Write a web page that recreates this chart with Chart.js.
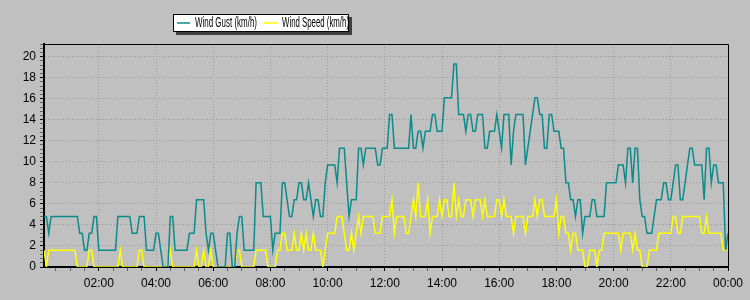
<!DOCTYPE html>
<html>
<head>
<meta charset="utf-8">
<script src="https://cdn.jsdelivr.net/npm/chart.js@4"></script>
<style>
    html, body { margin: 0; background: #c0c0c0; }
    canvas { display: block; }
</style>
</head>
<body>
<canvas id="chart-wind" width="750" height="300"></canvas>
<script>
// one sample every 5 minutes, 00:05 .. 24:00
const startMinute = 5;
const stepMinutes = 5;

const windGust = [
    4.8, 4.8, 3.2, 4.8, 4.8, 4.8, 4.8, 4.8, 4.8, 4.8,
    4.8, 4.8, 4.8, 4.8, 4.8, 3.2, 3.2, 1.6, 1.6, 3.2,
    3.2, 4.8, 4.8, 1.6, 1.6, 1.6, 1.6, 1.6, 1.6, 1.6,
    1.6, 4.8, 4.8, 4.8, 4.8, 4.8, 4.8, 3.2, 3.2, 3.2,
    4.8, 4.8, 4.8, 1.6, 1.6, 1.6, 1.6, 3.2, 3.2, 1.6,
    0, 0, 0, 4.8, 4.8, 1.6, 1.6, 1.6, 1.6, 1.6,
    1.6, 3.2, 3.2, 3.2, 6.4, 6.4, 6.4, 6.4, 3.2, 1.6,
    3.2, 3.2, 1.6, 0, 0, 0, 0, 3.2, 3.2, 0,
    0, 3.2, 4.8, 4.8, 1.6, 1.6, 1.6, 1.6, 1.6, 8.0, 8.0,
    8.0, 4.8, 4.8, 4.8, 4.8, 1.6, 3.2, 3.2, 3.2, 8.0,
    8.0, 6.4, 4.8, 4.8, 6.4, 6.4, 8.0, 8.0, 6.4, 6.4,
    8.0, 6.4, 4.8, 6.4, 6.4, 4.8, 4.8, 8.0, 9.7, 9.7,
    9.7, 9.7, 8.0, 11.3, 11.3, 11.3, 8.0, 4.8, 6.4, 6.4,
    6.4, 11.3, 11.3, 9.7, 11.3, 11.3, 11.3, 11.3, 11.3, 9.7,
    9.7, 11.3, 11.3, 11.3, 14.5, 14.5, 11.3, 11.3, 11.3, 11.3,
    11.3, 11.3, 11.3, 14.5, 11.3, 11.3, 12.9, 12.9, 11.3, 12.9,
    12.9, 12.9, 14.5, 14.5, 12.9, 12.9, 12.9, 16.1, 16.1, 16.1,
    16.1, 19.3, 19.3, 14.5, 14.5, 14.5, 12.9, 14.5, 14.5, 12.9,
    12.9, 14.5, 14.5, 14.5, 11.3, 11.3, 12.9, 12.9, 12.9, 14.5,
    12.9, 11.3, 14.5, 14.5, 14.5, 9.7, 12.9, 14.5, 14.5, 14.5, 14.5,
    9.7, 11.3, 12.9, 14.5, 16.1, 16.1, 14.5, 14.5, 11.3, 11.3,
    14.5, 14.5, 12.9, 12.9, 12.9, 11.3, 11.3, 8.0, 8.0, 6.4,
    6.4, 4.8, 6.4, 6.4, 3.2, 4.8, 4.8, 4.8, 6.4, 6.4,
    4.8, 4.8, 4.8, 4.8, 8.0, 8.0, 8.0, 8.0, 8.0, 9.7,
    9.7, 9.7, 8.0, 11.3, 11.3, 8.0, 11.3, 11.3, 6.4, 4.8,
    4.8, 3.2, 3.2, 3.2, 4.8, 6.4, 6.4, 6.4, 8.0, 8.0,
    6.4, 6.4, 8.0, 9.7, 9.7, 6.4, 6.4, 8.0, 9.7, 11.3,
    11.3, 9.7, 9.7, 9.7, 9.7, 6.4, 11.3, 11.3, 8.0, 9.7,
    9.7, 8.0, 8.0, 8.0, 1.6, 3.2
];

const windSpeed = [
    1.6, 0, 1.6, 1.6, 1.6, 1.6, 1.6, 1.6, 1.6, 1.6,
    1.6, 1.6, 1.6, 1.6, 0, 0, 0, 0, 0, 1.6,
    1.6, 0, 0, 0, 0, 0, 0, 0, 0, 0,
    0, 0, 1.6, 0, 0, 0, 0, 0, 0, 0,
    1.6, 1.6, 0, 0, 0, 0, 0, 0, 0, 0,
    0, 0, 0, 1.6, 0, 0, 0, 0, 0, 0,
    0, 0, 0, 0, 1.6, 0, 0, 1.6, 0, 0,
    1.6, 0, 0, 0, 0, 0, 0, 0, 0, 0,
    0, 1.6, 1.6, 0, 0, 0, 0, 0, 0, 1.6, 1.6,
    1.6, 1.6, 1.6, 0, 0, 0, 0, 1.6, 1.6, 3.2,
    3.2, 1.6, 1.6, 1.6, 3.2, 1.6, 1.6, 3.2, 1.6, 3.2,
    1.6, 1.6, 3.2, 1.6, 1.6, 1.6, 0, 1.6, 3.2, 3.2,
    3.2, 3.2, 4.8, 4.8, 4.8, 3.2, 1.6, 1.6, 3.2, 1.6,
    3.2, 4.8, 3.2, 4.8, 4.8, 4.8, 4.8, 4.8, 3.2, 3.2,
    3.2, 4.8, 4.8, 4.8, 4.8, 6.4, 3.2, 4.8, 4.8, 4.8,
    4.8, 3.2, 3.2, 4.8, 6.4, 4.8, 8.0, 4.8, 4.8, 4.8,
    6.4, 3.2, 4.8, 4.8, 4.8, 6.4, 4.8, 6.4, 6.4, 4.8,
    4.8, 8.0, 4.8, 6.4, 4.8, 4.8, 6.4, 6.4, 6.4, 4.8,
    6.4, 6.4, 6.4, 4.8, 6.4, 4.8, 4.8, 4.8, 4.8, 6.4,
    6.4, 4.8, 6.4, 4.8, 4.8, 4.8, 3.2, 4.8, 4.8, 4.8, 4.8,
    3.2, 4.8, 4.8, 4.8, 6.4, 4.8, 6.4, 6.4, 4.8, 4.8,
    4.8, 4.8, 4.8, 6.4, 3.2, 4.8, 4.8, 3.2, 3.2, 1.6,
    3.2, 3.2, 1.6, 1.6, 1.6, 0, 0, 1.6, 1.6, 1.6,
    0, 1.6, 1.6, 3.2, 3.2, 3.2, 3.2, 3.2, 3.2, 3.2,
    1.6, 3.2, 3.2, 3.2, 3.2, 1.6, 3.2, 1.6, 1.6, 0,
    0, 0, 1.6, 1.6, 1.6, 1.6, 3.2, 3.2, 3.2, 3.2,
    3.2, 3.2, 4.8, 4.8, 3.2, 3.2, 4.8, 4.8, 4.8, 4.8,
    4.8, 4.8, 4.8, 4.8, 3.2, 3.2, 4.8, 3.2, 3.2, 3.2,
    3.2, 3.2, 3.2, 1.6, 1.6, 1.6
];

const seriesNames = ['Wind Gust (km/h)', 'Wind Speed (km/h)'];
const seriesColors = ['#0b8b8b', '#ffff00'];

// y axis: labels every 2, small ticks every 0.4
const yMax = 21.2;
const yMinorStep = 0.4;

const FONT = '"Liberation Sans Narrow", "Arial Narrow", "Liberation Sans", Arial, sans-serif';


function hhmm(minutes) {
    let h = Math.floor(minutes / 60) % 24, m = minutes % 60;
    return String(h).padStart(2, '0') + ':' + String(m).padStart(2, '0');
};

function points(values) {
    let out = [];
    for (let i = 0; i < values.length; i++) {
        out.push({ x: startMinute + stepMinutes * i, y: values[i] });
    };
    return out;
};

const isMajorX = v => v > 0 && v % 120 === 0;
const isMajorY = v => Math.abs(v / 2 - Math.round(v / 2)) < 1e-6;

// frame on top/right and the boxed legend
const framePlugin = {
    id: 'frame',
    afterDraw(chart) {
        const ctx = chart.ctx, a = chart.chartArea;
        ctx.save();
        ctx.strokeStyle = '#000';
        ctx.lineWidth = 1;
        ctx.beginPath();
        ctx.moveTo(a.left, a.top + 0.5);
        ctx.lineTo(a.right + 0.5, a.top + 0.5);
        ctx.lineTo(a.right + 0.5, a.bottom);
        ctx.stroke();

        const bx = 173, by = 14, bw = 176, bh = 18;
        ctx.fillStyle = '#404040';
        ctx.fillRect(bx + 3, by + 3, bw, bh);
        ctx.fillStyle = '#fff';
        ctx.fillRect(bx, by, bw, bh);
        ctx.strokeRect(bx + 0.5, by + 0.5, bw - 1, bh - 1);

        const items = [[177, 195, 62], [264, 282, 67]];
        ctx.font = '14px ' + FONT;
        ctx.textBaseline = 'middle';
        items.forEach((it, i) => {
            ctx.strokeStyle = seriesColors[i];
            ctx.lineWidth = 1.5;
            ctx.beginPath();
            ctx.moveTo(it[0], by + 9);
            ctx.lineTo(it[0] + 13, by + 9);
            ctx.stroke();
            ctx.fillStyle = '#000';
            ctx.fillText(seriesNames[i], it[1], by + 9.5, it[2]);
        });
        ctx.restore();
    }
};

const chart = new Chart(document.getElementById('chart-wind').getContext('2d'), {
    type: 'line',
    data: {
        datasets: [
            { label: seriesNames[0], data: points(windGust), borderColor: seriesColors[0] },
            { label: seriesNames[1], data: points(windSpeed), borderColor: seriesColors[1] }
        ]
    },
    options: {
        responsive: false,
        animation: false,
        devicePixelRatio: 1,
        layout: { padding: { top: 44, right: 22, left: 0, bottom: 0 } },
        elements: {
            line: { borderWidth: 1.5, tension: 0, fill: false },
            point: { radius: 0 }
        },
        plugins: {
            legend: { display: false },
            tooltip: { enabled: false }
        },
        scales: {
            x: {
                type: 'linear',
                min: startMinute,
                max: 1440,
                afterFit: s => { s.height = 33; },
                ticks: {
                    stepSize: 30,
                    autoSkip: false,
                    maxRotation: 0,
                    padding: 5,
                    color: '#000',
                    font: { family: FONT, size: 12 },
                    callback: v => isMajorX(v) ? hhmm(v) : ''
                },
                grid: {
                    color: c => c.tick && isMajorX(c.tick.value) ? '#999' : 'rgba(0,0,0,0)',
                    tickColor: c => c.tick && c.tick.value === startMinute ? 'rgba(0,0,0,0)'
                        : (c.tick && isMajorX(c.tick.value) ? '#000' : '#666'),
                    tickLength: 4,
                    lineWidth: 1
                },
                border: { color: '#000', width: 2, dash: [1, 2] }
            },
            y: {
                min: 0,
                max: yMax,
                afterFit: s => { s.width = 44; },
                afterBuildTicks: s => {
                    let t = [];
                    for (let i = 0; i * yMinorStep <= yMax + 1e-6; i++) {
                        t.push({ value: Math.round(i * yMinorStep * 10) / 10 });
                    };
                    s.ticks = t;
                },
                ticks: {
                    autoSkip: false,
                    padding: 4,
                    color: '#000',
                    font: { family: FONT, size: 12 },
                    callback: v => isMajorY(v) ? String(Math.round(v)) : ''
                },
                grid: {
                    color: c => c.tick && isMajorY(c.tick.value) && c.tick.value > 0 ? '#999' : 'rgba(0,0,0,0)',
                    tickColor: c => c.tick && isMajorY(c.tick.value) ? '#000' : '#666',
                    tickLength: 4,
                    lineWidth: 1
                },
                border: { color: '#000', width: 2, dash: [1, 2] }
            }
        }
    },
    plugins: [framePlugin]
});
</script>
</body>
</html>
